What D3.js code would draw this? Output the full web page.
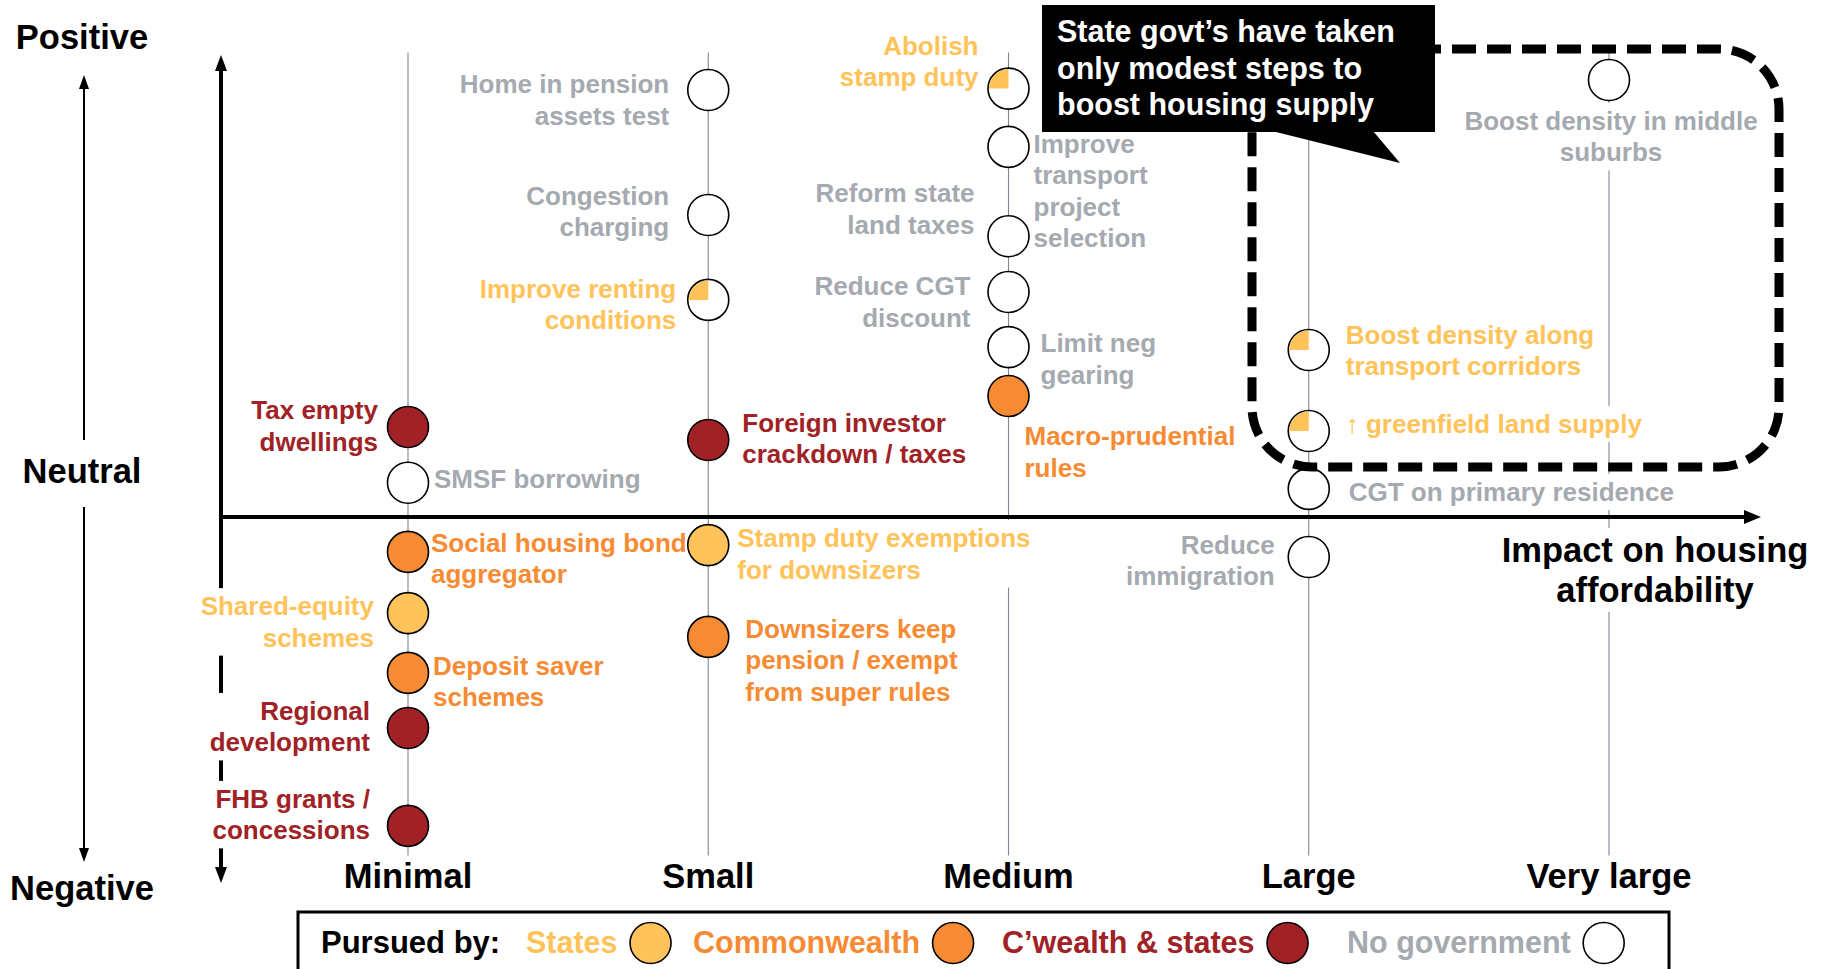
<!DOCTYPE html>
<html>
<head>
<meta charset="utf-8">
<script src="https://cdnjs.cloudflare.com/ajax/libs/d3/7.8.5/d3.min.js"></script>
<style>
body{margin:0;background:#fff;}
svg{display:block;font-family:"Liberation Sans",Arial,Helvetica,sans-serif;font-weight:bold;}
</style>
</head>
<body>
<div id="chart"></div>
<script>
// impact categories (x) and direction labels (y)
let categories = ["Minimal","Small","Medium","Large","Very large"];
let directionLabels = ["Positive","Neutral","Negative"];

// policies: label text ("|" = line break), impact category, effect on affordability, who pursues it
let policyNames = [
  "Tax empty|dwellings","SMSF borrowing","Social housing bond|aggregator","Shared-equity|schemes",
  "Deposit saver|schemes","Regional|development","FHB grants /|concessions",
  "Home in pension|assets test","Congestion|charging","Improve renting|conditions",
  "Foreign investor|crackdown / taxes","Stamp duty exemptions|for downsizers",
  "Downsizers keep|pension / exempt|from super rules",
  "Abolish|stamp duty","Improve|transport|project|selection","Reform state|land taxes",
  "Reduce CGT|discount","Limit neg|gearing","Macro-prudential|rules",
  "Boost density along|transport corridors","\u2191 greenfield land supply",
  "CGT on primary residence","Reduce|immigration",
  "Boost density in middle|suburbs"
];
let policyImpact = [
  "Minimal","Minimal","Minimal","Minimal","Minimal","Minimal","Minimal",
  "Small","Small","Small","Small","Small","Small",
  "Medium","Medium","Medium","Medium","Medium","Medium",
  "Large","Large","Large","Large",
  "Very large"
];
let policyEffect = [
  2.5,0.95,-0.97,-2.67,-4.33,-5.86,-8.58,
  11.86,8.39,6.03,2.14,-0.78,-3.33,
  11.9,10.28,7.8,6.25,4.72,3.36,
  4.64,2.39,0.78,-1.11,
  12.14
];
// S = states, SP = states (partly), C = Commonwealth, CS = C'wealth & states, N = no government
let policyPursuer = [
  "CS","N","C","S","C","CS","CS",
  "N","N","SP","CS","S","C",
  "SP","N","N","N","N","C",
  "SP","SP","N","N",
  "N"
];
let legendKeys = ["S","C","CS","N"];
let legendNames = ["States","Commonwealth","C\u2019wealth & states","No government"];
let calloutLines = ["State govt\u2019s have taken","only modest steps to","boost housing supply"];
let axisTitleLines = ["Impact on housing","affordability"];

// label placement: [anchor, dx, dy of first baseline] relative to the circle
let labelLayout = [
  ["end",-30,-8],["start",26,5],["start",23,0],["end",-34,2],["start",25,2],["end",-38,-8],["end",-38,-18],
  ["end",-39,3],["end",-39,-10],["end",-32,-2],["start",34,-8],["start",29,2],["start",37,1],
  ["end",-30,-34],["start",25,6],["end",-34,-34],["end",-38,3],["start",32,5],["start",16,49],
  ["start",37,-6],["start",37,2],["start",40,12],["end",-34,-3],
  ["middle",2,50]
];

let yellow = "#FFC35A", orange = "#F68B33", red = "#A02226", grey = "#A4AAB0", lineGrey = "#7F8892";
let fillOf = {S:yellow, SP:"#fff", C:orange, CS:red, N:"#fff"};
let textOf = {S:yellow, SP:yellow, C:orange, CS:red, N:grey};

let width = 1825, height = 969;
let radius = 20.5;
let lineH = 31.5;
let axisX = 221, axisY = 517;

let x = d3.scalePoint().domain(categories).range([408, 1609]);
let y = d3.scaleLinear().domain([-10, 13]).range([877, 49]);

let svg = d3.select("#chart").append("svg")
  .attr("width", width)
  .attr("height", height);

// vertical guide lines per category
svg.selectAll(".guide")
  .data(categories)
  .enter().append("line")
  .attr("class","guide")
  .attr("x1", d => x(d)).attr("x2", d => x(d))
  .attr("y1", y(12.9)).attr("y2", y(-9.4))
  .attr("stroke", lineGrey)
  .attr("stroke-width", 1.1);

// main axes
svg.append("line")
  .attr("x1", axisX).attr("x2", axisX)
  .attr("y1", 66).attr("y2", 872)
  .attr("stroke","#000").attr("stroke-width",4);
svg.append("path").attr("d", `M${axisX},55 L${axisX-6},71 L${axisX+6},71 Z`).attr("fill","#000");
svg.append("path").attr("d", `M${axisX},883 L${axisX-6},867 L${axisX+6},867 Z`).attr("fill","#000");
svg.append("line")
  .attr("x1", axisX).attr("x2", 1748)
  .attr("y1", axisY).attr("y2", axisY)
  .attr("stroke","#000").attr("stroke-width",4);
svg.append("path").attr("d", `M1761,${axisY} L1744,${axisY-7} L1744,${axisY+7} Z`).attr("fill","#000");

// thin direction arrow on the left
svg.append("line").attr("x1",84).attr("x2",84).attr("y1",84).attr("y2",440).attr("stroke","#000").attr("stroke-width",2);
svg.append("line").attr("x1",84).attr("x2",84).attr("y1",507).attr("y2",853).attr("stroke","#000").attr("stroke-width",2);
svg.append("path").attr("d","M84,75 L79,89 L89,89 Z").attr("fill","#000");
svg.append("path").attr("d","M84,862 L79,848 L89,848 Z").attr("fill","#000");

svg.selectAll(".dir")
  .data(directionLabels)
  .enter().append("text")
  .attr("class","dir")
  .attr("x", 82)
  .attr("y", (d,i) => [49, 483, 900][i])
  .attr("text-anchor","middle")
  .attr("font-size", 34.5)
  .text(d => d);

// category tick labels
svg.selectAll(".tick")
  .data(categories)
  .enter().append("text")
  .attr("class","tick")
  .attr("x", d => x(d))
  .attr("y", 888)
  .attr("text-anchor","middle")
  .attr("font-size", 34.5)
  .text(d => d);

// helper: multi-line text with white box behind
function multiText(g, lines, tx, ty, anchor, size, lh, color, box){
  let t = g.append("text")
    .attr("x", tx).attr("y", ty)
    .attr("text-anchor", anchor)
    .attr("font-size", size)
    .attr("fill", color);
  lines.forEach((l, i) => {
    t.append("tspan").attr("x", tx).attr("dy", i == 0 ? 0 : lh).text(l);
  });
  if (box) {
    let b = t.node().getBBox();
    g.insert("rect", function(){ return t.node(); })
      .attr("x", b.x - 3).attr("y", b.y - 3)
      .attr("width", b.width + 6).attr("height", b.height + 6)
      .attr("fill", "#fff");
  }
  return t;
}

let axisTitle = svg.append("g");
multiText(axisTitle, axisTitleLines, 1655, 562, "middle", 34.5, 40, "#000", true);

// policy labels
let labels = svg.append("g");
policyNames.forEach((name, i) => {
  let lay = labelLayout[i];
  let cx = x(policyImpact[i]), cy = y(policyEffect[i]);
  multiText(labels, name.split("|"), cx + lay[1], cy + lay[2], lay[0], 26, lineH, textOf[policyPursuer[i]], true);
});

// policy circles
let quarter = d3.arc().innerRadius(0).outerRadius(radius - 1).startAngle(-Math.PI/2).endAngle(0);
let dots = svg.selectAll(".dot")
  .data(policyNames)
  .enter().append("g")
  .attr("class","dot")
  .attr("transform", (d,i) => `translate(${x(policyImpact[i])},${y(policyEffect[i])})`);
dots.append("circle")
  .attr("r", radius)
  .attr("fill", (d,i) => fillOf[policyPursuer[i]])
  .attr("stroke", "#000")
  .attr("stroke-width", 1.6);
dots.filter((d,i) => policyPursuer[i] == "SP")
  .append("path")
  .attr("d", quarter)
  .attr("fill", yellow);

// dashed highlight box
svg.append("rect")
  .attr("x", 1252).attr("y", 49)
  .attr("width", 527).attr("height", 418)
  .attr("rx", 60).attr("ry", 60)
  .attr("fill", "none")
  .attr("stroke", "#000")
  .attr("stroke-width", 9)
  .attr("stroke-dasharray", "24 11");

// callout
svg.append("rect").attr("x",1042).attr("y",5).attr("width",393).attr("height",127).attr("fill","#000");
svg.append("path").attr("d","M1272,131 L1373,131 L1400,163 Z").attr("fill","#000");
svg.selectAll(".callout")
  .data(calloutLines)
  .enter().append("text")
  .attr("class","callout")
  .attr("x", 1057)
  .attr("y", (d,i) => 42 + i * 36.5)
  .attr("font-size", 30.5)
  .attr("fill", "#fff")
  .text(d => d);

// legend
svg.append("rect")
  .attr("x", 298).attr("y", 912)
  .attr("width", 1371).attr("height", 90)
  .attr("fill","none").attr("stroke","#000").attr("stroke-width",3);
svg.append("text").attr("x",321).attr("y",953).attr("font-size",31).text("Pursued by:");
let legendX = [526, 693, 1002, 1347];
let keys = svg.selectAll(".key")
  .data(legendKeys)
  .enter().append("g")
  .attr("class","key");
keys.append("text")
  .attr("x", (d,i) => legendX[i])
  .attr("y", 953)
  .attr("font-size", 30.5)
  .attr("fill", d => textOf[d])
  .text((d,i) => legendNames[i]);
keys.append("circle")
  .attr("cx", function(d,i){ return legendX[i] + this.parentNode.querySelector("text").getComputedTextLength() + 33; })
  .attr("cy", 943)
  .attr("r", radius)
  .attr("fill", d => fillOf[d])
  .attr("stroke","#000")
  .attr("stroke-width",1.6);
</script>
</body>
</html>
